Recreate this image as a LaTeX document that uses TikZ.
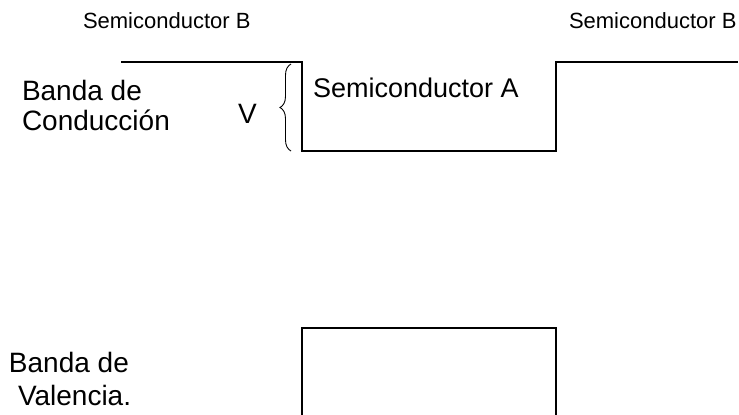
\documentclass[tikz,border=0pt]{standalone}
\usepackage{fontspec}
\setmainfont{Liberation Sans}
\usetikzlibrary{positioning, decorations.pathreplacing, calc}

\begin{document}
\begin{tikzpicture}[x=1pt, y=-1pt, line width=2pt,
    lbl/.style={inner sep=0pt, anchor=base west, font=\fontsize{28}{30}\selectfont},
    small/.style={inner sep=0pt, anchor=base west, font=\fontsize{22}{24}\selectfont}]
    \useasboundingbox (0,0) rectangle (739,415);

    % Etiquetas de los semiconductores
    \node[small] (semB_l) at (82, 28) {Semiconductor B};
    \node[small] (semB_r) at (568, 28) {Semiconductor B};
    \node[lbl, font=\fontsize{27}{29}\selectfont] (semA) at (312, 97) {Semiconductor A};

    % Banda de conducción
    \coordinate (c1) at (121, 62);
    \coordinate (c2) at (302, 62);
    \coordinate (c3) at (302, 151);
    \coordinate (c4) at (556, 151);
    \coordinate (c5) at (556, 62);
    \coordinate (c6) at (738, 62);
    \draw (c1) -- (c2) -- (c3) -- (c4) -- (c5) -- (c6);

    \node[lbl] (cb_1) at (21, 100) {Banda de};
    \node[lbl] (cb_2) at (21, 130) {Conducción};

    % Salto V
    \coordinate (v_bot) at (291, 151);
    \coordinate (v_top) at (291, 64);
    \draw[line width=0.9pt, decorate, decoration={brace, amplitude=11pt}] (v_bot) -- (v_top);
    \node[lbl] (v_lbl) at (237, 123) {V};

    % Banda de valencia
    \coordinate (b1) at (302, 415);
    \coordinate (b2) at (302, 328);
    \coordinate (b3) at (556, 328);
    \coordinate (b4) at (556, 415);
    \draw (b1) -- (b2) -- (b3) -- (b4);

    \node[lbl] (vb_1) at (8, 372) {Banda de};
    \node[lbl] (vb_2) at (17, 405) {Valencia.};
\end{tikzpicture}
\end{document}
